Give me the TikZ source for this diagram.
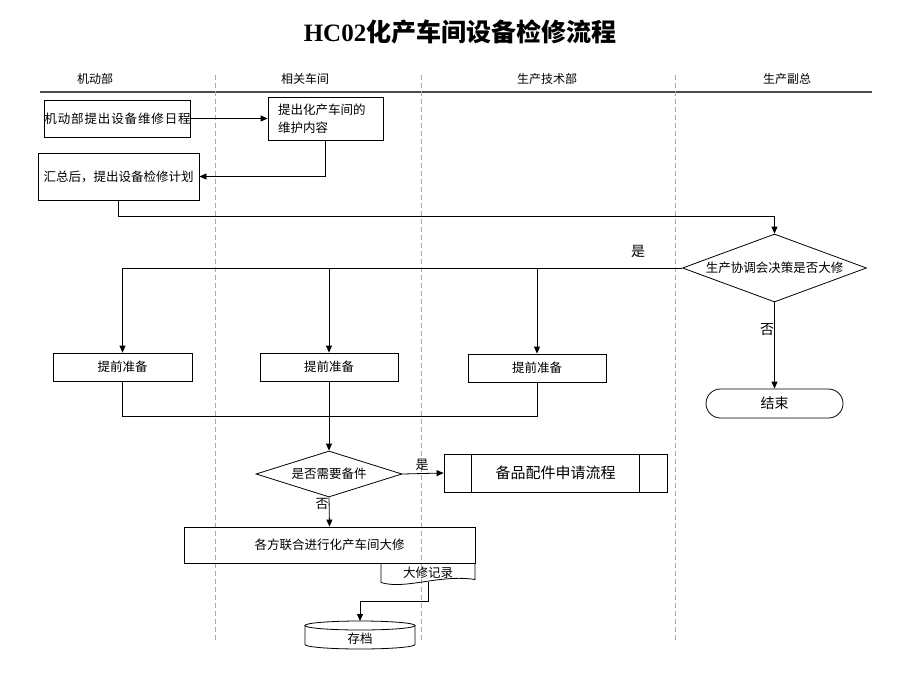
\documentclass[tikz,border=0pt]{standalone}
\usepackage{fontspec}
\setmainfont{Liberation Serif}
\newfontfamily\cjk{Noto Sans CJK SC}
\newfontfamily\cjkls[LetterSpace=7]{Noto Sans CJK SC}
\usetikzlibrary{arrows.meta,shapes.geometric,shapes.misc}
\tikzset{
  base/.style={draw=black, line width=0.8pt, inner sep=0pt, align=center,
    font=\cjk\fontsize{12.5}{18}\selectfont},
  proc/.style={base, rectangle},
  decide/.style={base, diamond},
  term/.style={base, rounded rectangle},
  lane/.style={font=\cjk\fontsize{12}{14}\selectfont},
  lbl/.style={font=\cjk\fontsize{14}{16}\selectfont, inner sep=0pt},
  arr/.style={draw=black, line width=0.8pt, -{Triangle[length=7pt,width=6pt]}},
  ln/.style={draw=black, line width=0.8pt},
  sep/.style={draw=gray!70, line width=0.6pt, dash pattern=on 5pt off 3pt},
}
\begin{document}
\begin{tikzpicture}[x=1pt,y=-1pt]
\useasboundingbox[fill=white] (0,0) rectangle (920,690);

% title
\node (title) at (460,32) {\fontsize{25}{30}\selectfont\bfseries HC02{\cjk\bfseries 化产车间设备检修流程}};

% lanes
\node[lane] (l1) at (95,79) {机动部};
\node[lane] (l2) at (305,79) {相关车间};
\node[lane] (l3) at (547,79) {生产技术部};
\node[lane] (l4) at (787,79) {生产副总};
\coordinate (hl) at (40,92);
\coordinate (hr) at (872,92);
\draw[draw=black!70, line width=1.8pt] (hl) -- (hr);
\foreach \x/\n in {215/s1,421/s2,675/s3}{
  \coordinate (\n t) at (\x,75);
  \coordinate (\n b) at (\x,640);
  \draw[sep] (\n t) -- (\n b);
}

% nodes
\node[proc, minimum width=145, minimum height=37, font=\cjkls\fontsize{12.5}{15}\selectfont] (a) at (117.5,118.5) {机动部提出设备维修日程};
\node[proc, minimum height=43, text width=95, inner xsep=10pt, align=left] (b) at (325.5,118.5) {提出化产车间的\\维护内容};
\node[proc, minimum width=161, minimum height=47] (c) at (118.5,176.5) {汇总后，提出设备检修计划};
\node[decide, aspect=2.7, minimum width=184, minimum height=68] (d1) at (774.5,268) {生产协调会决策是否大修};
\node[term, minimum width=137, minimum height=29, font=\cjk\fontsize{14}{16}\selectfont] (end) at (774.5,403.5) {结束};
\node[proc, minimum width=139, minimum height=28] (p1) at (122.5,367) {提前准备};
\node[proc, minimum width=138, minimum height=28] (p2) at (329,367) {提前准备};
\node[proc, minimum width=138, minimum height=28] (p3) at (537,368) {提前准备};
\node[decide, aspect=3.17, minimum width=146, minimum height=46] (d2) at (329,474) {是否需要备件};
\node[proc, minimum width=223, minimum height=38, font=\cjk\fontsize{15}{18}\selectfont] (sp) at (555.5,473) {备品配件申请流程};
\draw[ln] ([xshift=28pt]sp.north west) -- ([xshift=28pt]sp.south west);
\draw[ln] ([xshift=-28pt]sp.north east) -- ([xshift=-28pt]sp.south east);
\node[proc, minimum width=291, minimum height=36] (big) at (329.5,545) {各方联合进行化产车间大修};

% document shape
\draw[ln] (381,563) -- (381,582.5) .. controls (405,590) and (440,574) .. (475,579.5) -- (475,563);
\node[inner sep=0pt, font=\cjk\fontsize{12.5}{15}\selectfont] (doc) at (428,572.5) {大修记录};
\coordinate (dbot) at (428,582);

% cylinder (archive)
\node[inner sep=0pt, font=\cjk\fontsize{12.5}{15}\selectfont] (arch) at (360,638.5) {存档};
\draw[ln, fill=white] (360,625.5) ellipse [x radius=55pt, y radius=4.5pt];
\draw[ln] (305,625.5) -- (305,644.5) arc[start angle=180, end angle=360, x radius=55pt, y radius=4.5pt] -- (415,625.5);
\coordinate (archtop) at (360,621);

% connectors
\draw[arr] (a.east) -- (b.west);
\draw[arr] (b.south) |- (c.east);
\coordinate (cr) at (118.5,216);
\draw[arr] (c.south) -- (cr) -| (d1.north);
\draw[arr] (d1.west) -| (p1.north);
\draw[arr] (p2.north |- d1.west) -- (p2.north);
\draw[arr] (p3.north |- d1.west) -- (p3.north);
\node[lbl] (yes1) at (638,251) {是};
\draw[arr] (d1.south) -- (end.north);
\node[lbl] (no1) at (767,330) {否};

\coordinate (j) at (329,416);
\draw[ln] (p1.south) |- (j);
\draw[ln] (p3.south) |- (j);
\draw[arr] (p2.south) -- (d2.north);

\draw[arr] (d2.east) -- (sp.west);
\node[lbl, font=\cjk\fontsize{13}{15}\selectfont] (yes2) at (422,465) {是};
\draw[arr] (d2.south) -- (big.north);
\node[lbl, font=\cjk\fontsize{13}{15}\selectfont] (no2) at (322,504) {否};

\coordinate (dk) at (428,601.5);
\draw[arr] (dbot) -- (dk) -| (archtop);
\end{tikzpicture}
\end{document}
